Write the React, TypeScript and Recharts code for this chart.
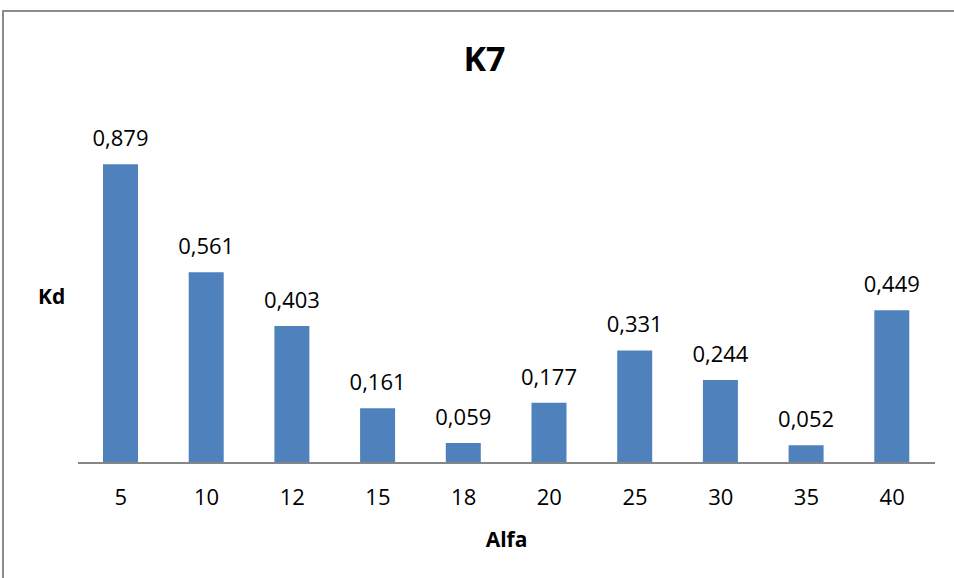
import { BarChart, Bar, XAxis, YAxis, LabelList } from "recharts";

const alfa = ["5", "10", "12", "15", "18", "20", "25", "30", "35", "40"];
const kd = [0.879, 0.561, 0.403, 0.161, 0.059, 0.177, 0.331, 0.244, 0.052, 0.449];

const data = alfa.map((a, i) => ({ alfa: a, kd: kd[i] }));

const font = "'Open Sans', 'Liberation Sans', sans-serif";

export default function App() {
  return (
    <div style={{ position: "absolute", left: 0, top: 0, width: 954, height: 578, background: "#fff", fontFamily: font, overflow: "hidden" }}>
      <div style={{ position: "absolute", left: 2, top: 10, width: 980, height: 600, border: "2px solid #8c8c8c" }} />
      <div style={{ position: "absolute", left: 0, width: 969, top: 35, textAlign: "center", fontSize: 34, fontWeight: 700, lineHeight: "46px" }}>K7</div>
      <div style={{ position: "absolute", left: 38, top: 282, fontSize: 21, fontWeight: 700, lineHeight: "28px" }}>Kd</div>
      <div style={{ position: "absolute", left: 0, width: 1013, top: 525, textAlign: "center", fontSize: 21, fontWeight: 700, lineHeight: "28px" }}>Alfa</div>
      <BarChart
        width={954}
        height={578}
        data={data}
        margin={{ top: 123, right: 19, bottom: 85, left: 78 }}
        style={{ position: "absolute", left: 0, top: 0 }}
      >
        <XAxis
          dataKey="alfa"
          tickLine={false}
          tickSize={0}
          tickMargin={26}
          stroke="#868686"
          strokeWidth={2}
          tick={{ fill: "#000", fontSize: 22, fontFamily: font }}
        />
        <YAxis hide domain={[0, 1]} />
        <Bar dataKey="kd" fill="#4F81BD" barSize={35} isAnimationActive={false}>
          <LabelList
            dataKey="kd"
            position="top"
            offset={18}
            formatter={(v: number) => v.toFixed(3).replace(".", ",")}
            style={{ fill: "#000", fontSize: 22, fontFamily: font }}
          />
        </Bar>
      </BarChart>
    </div>
  );
}
